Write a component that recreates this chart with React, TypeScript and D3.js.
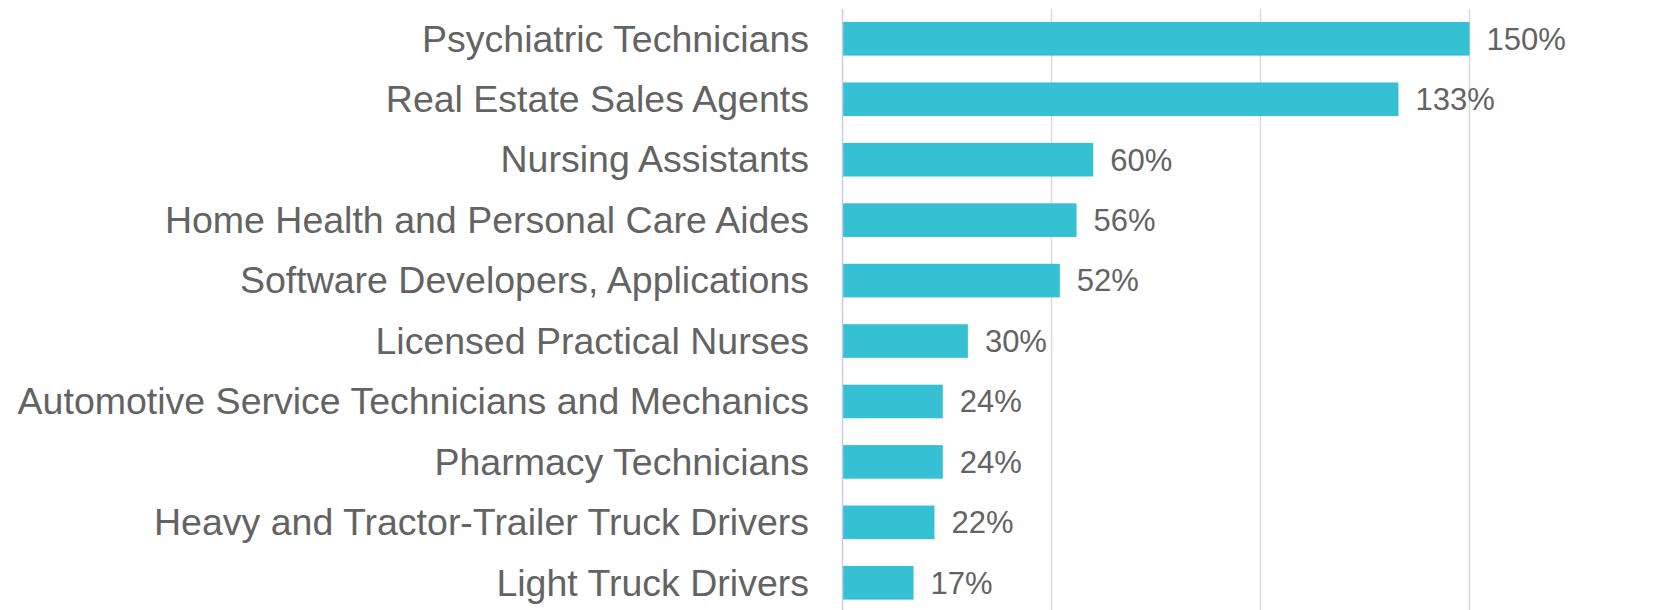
import React from "react";
import * as d3 from "d3";

const categories = [
  "Psychiatric Technicians",
  "Real Estate Sales Agents",
  "Nursing Assistants",
  "Home Health and Personal Care Aides",
  "Software Developers, Applications",
  "Licensed Practical Nurses",
  "Automotive Service Technicians and Mechanics",
  "Pharmacy Technicians",
  "Heavy and Tractor-Trailer Truck Drivers",
  "Light Truck Drivers",
];
const values = [150, 133, 60, 56, 52, 30, 24, 24, 22, 17];
const gridTicks = [50, 100, 150];

const W = 1662;
const H = 610;

export default function App() {
  const x = d3.scaleLinear().domain([0, 200]).range([842.5, 842.5 + 836]);
  const y = d3
    .scaleBand<string>()
    .domain(categories)
    .range([9, 612.6])
    .paddingInner(0.444)
    .paddingOuter(0.215);
  const font = "'Liberation Sans', Arial, sans-serif";
  return (
    <svg
      width={W}
      height={H}
      style={{ position: "absolute", left: 0, top: 0, background: "#fff" }}
    >
      {gridTicks.map((t) => (
        <line
          key={t}
          x1={x(t)}
          x2={x(t)}
          y1={9}
          y2={H}
          stroke="#d9d9d9"
          strokeWidth={1.5}
        />
      ))}
      {categories.map((c, i) => (
        <g key={c}>
          <rect
            x={x(0)}
            y={y(c)}
            width={x(values[i]) - x(0)}
            height={y.bandwidth()}
            fill="#35C1D3"
          />
          <text
            x={809}
            y={(y(c) as number) + y.bandwidth() / 2}
            dy="0.34em"
            textAnchor="end"
            fontFamily={font}
            fontSize={37.5}
            fill="#636363"
          >
            {c}
          </text>
          <text
            x={x(values[i]) + 17}
            y={(y(c) as number) + y.bandwidth() / 2}
            dy="0.35em"
            textAnchor="start"
            fontFamily={font}
            fontSize={31}
            fill="#636363"
          >
            {values[i] + "%"}
          </text>
        </g>
      ))}
      <line
        x1={x(0)}
        x2={x(0)}
        y1={9}
        y2={H}
        stroke="#c6c9f5"
        strokeWidth={1.5}
      />
    </svg>
  );
}
